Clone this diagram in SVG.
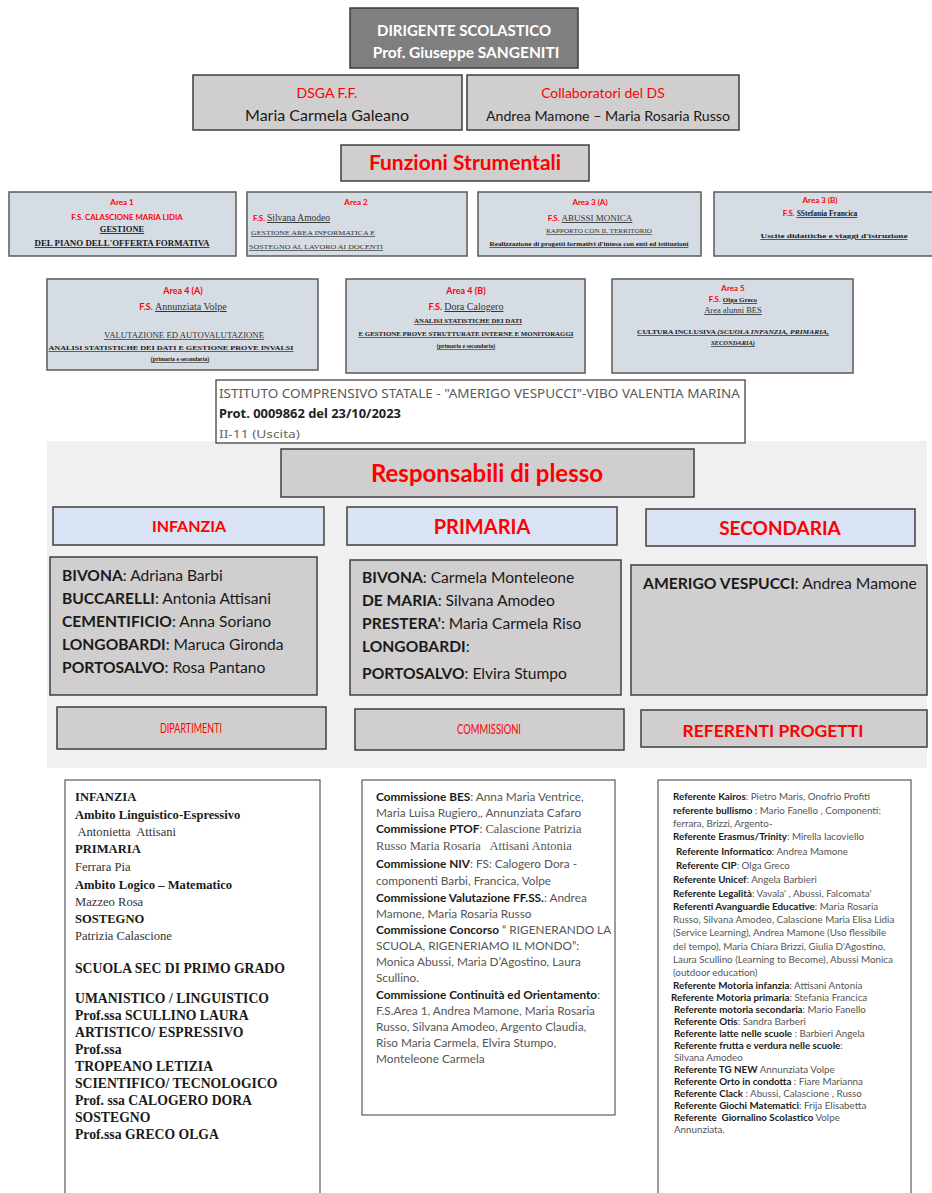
<svg xmlns="http://www.w3.org/2000/svg" width="932" height="1193" viewBox="0 0 932 1193">
<style>
.dark{fill:#7f7f7f;stroke:#3a3a3a;stroke-width:1.5}
.gray{fill:#d0cece;stroke:#3f3f3f;stroke-width:1.5}
.area{fill:#d6dce4;stroke:#5a5a5a;stroke-width:1.5}
.blue{fill:#dae3f3;stroke:#3f3f3f;stroke-width:1.5}
.white{fill:#ffffff;stroke:#5a5a5a;stroke-width:1.2}
text{font-family:Lato,"Liberation Sans",sans-serif}
.c{text-anchor:middle}
.red{fill:#ff0000}
.b{font-weight:bold}
.serif{font-family:"Liberation Serif","Times New Roman",serif}
.u{text-decoration:underline}
.ink{fill:#333333}
.k{fill:#1a1a1a}
.g{fill:#555555}
</style>
<rect x="0" y="0" width="932" height="1193" fill="#ffffff"/>
<rect x="47" y="441" width="880" height="327" fill="#f0f0f0"/>

<g id="connectors"/>

<g id="dirigente">
<rect class="dark" x="350" y="8" width="228" height="60"/>
<text class="c b" x="464" y="36" font-size="15" fill="#ffffff">DIRIGENTE SCOLASTICO</text>
<text class="c b" x="466" y="58" font-size="15.5" fill="#ffffff">Prof. Giuseppe SANGENITI</text>
</g>

<g id="dsga">
<rect class="gray" x="193" y="75" width="269" height="55"/>
<text class="c red" x="327" y="98" font-size="14">DSGA F.F.</text>
<text class="c k" x="327" y="121" font-size="16">Maria Carmela Galeano</text>
</g>

<g id="collaboratori">
<rect class="gray" x="467" y="75" width="272" height="55"/>
<text class="c red" x="603" y="98" font-size="14">Collaboratori del DS</text>
<text class="c k" x="608" y="121" font-size="14.2">Andrea Mamone – Maria Rosaria Russo</text>
</g>

<g id="funzioni">
<rect class="gray" x="341" y="145" width="248" height="36"/>
<text class="c red b" x="465" y="170" font-size="21">Funzioni Strumentali</text>
</g>

<g id="area1">
<rect class="area" x="9" y="192" width="227" height="64"/>
<text class="c red b" x="122" y="205" font-size="8">Area 1</text>
<text class="c red b" x="127" y="220" font-size="7.8">F.S. CALASCIONE MARIA LIDIA</text>
<text class="c b serif u k" x="122" y="232" font-size="8.5">GESTIONE</text>
<text class="c b serif u k" x="122" y="246" font-size="8" textLength="175" lengthAdjust="spacingAndGlyphs">DEL PIANO DELL'OFFERTA FORMATIVA</text>
</g>

<g id="area2">
<rect class="area" x="247" y="192" width="220" height="64"/>
<text class="c red b" x="356" y="205" font-size="8">Area 2</text>
<text x="253" y="221" font-size="9.5"><tspan class="red b" font-size="8">F.S. </tspan><tspan class="serif u ink">Silvana Amodeo</tspan></text>
<text class="serif u ink" x="251" y="235" font-size="7" textLength="124" lengthAdjust="spacingAndGlyphs">GESTIONE AREA INFORMATICA E</text>
<text class="serif u ink" x="249" y="249" font-size="7" textLength="134" lengthAdjust="spacingAndGlyphs">SOSTEGNO AL LAVORO AI DOCENTI</text>
</g>

<g id="area3a">
<rect class="area" x="478" y="192" width="223" height="64"/>
<text class="c red b" x="590" y="205" font-size="8">Area 3 (A)</text>
<text class="c" x="590" y="221" font-size="9"><tspan class="red b" font-size="8">F.S. </tspan><tspan class="serif u ink">ABUSSI MONICA</tspan></text>
<text class="c serif u ink" x="599" y="233" font-size="6.5" textLength="106" lengthAdjust="spacingAndGlyphs">RAPPORTO CON IL TERRITORIO</text>
<text class="c serif u b k" x="589" y="246" font-size="6.5" textLength="199" lengthAdjust="spacingAndGlyphs">Realizzazione di progetti formativi d'intesa con enti ed istituzioni</text>
</g>

<g id="area3b">
<rect class="area" x="714" y="192" width="225" height="64"/>
<text class="c red b" x="820" y="203" font-size="8">Area 3 (B)</text>
<text class="c" x="820" y="216" font-size="7.5"><tspan class="red b" font-size="8">F.S. </tspan><tspan class="serif u b k">SStefania Francica</tspan></text>
<text class="c serif u b k" x="834" y="238" font-size="7" textLength="147" lengthAdjust="spacingAndGlyphs">Uscite didattiche e viaggi d'istruzione</text>
</g>

<g id="area4a">
<rect class="area" x="47" y="279" width="271" height="91"/>
<text class="c red b" x="183" y="294" font-size="9">Area 4 (A)</text>
<text class="c" x="183" y="310" font-size="10"><tspan class="red b" font-size="9">F.S. </tspan><tspan class="serif u ink">Annunziata Volpe</tspan></text>
<text class="c serif u ink" x="184" y="338" font-size="7.5" textLength="160" lengthAdjust="spacingAndGlyphs">VALUTAZIONE ED AUTOVALUTAZIONE</text>
<text class="c serif u b k" x="171" y="350" font-size="6.5" textLength="245" lengthAdjust="spacingAndGlyphs">ANALISI STATISTICHE   DEI DATI   E GESTIONE PROVE INVALSI</text>
<text class="c serif u b k" x="180" y="361" font-size="5.8">(primaria e secondaria)</text>
</g>

<g id="area4b">
<rect class="area" x="346" y="279" width="239" height="94"/>
<text class="c red b" x="466" y="294" font-size="9">Area 4 (B)</text>
<text class="c" x="466" y="310" font-size="10"><tspan class="red b" font-size="9">F.S. </tspan><tspan class="serif u ink">Dora Calogero</tspan></text>
<text class="c serif u b k" x="468" y="323" font-size="6" textLength="108" lengthAdjust="spacingAndGlyphs">ANALISI STATISTICHE   DEI DATI</text>
<text class="c serif u b k" x="466" y="336" font-size="6.5" textLength="215" lengthAdjust="spacingAndGlyphs">E GESTIONE PROVE STRUTTURATE INTERNE E MONITORAGGI</text>
<text class="c serif u b k" x="466" y="348" font-size="5.8">(primaria e secondaria)</text>
</g>

<g id="area5">
<rect class="area" x="612" y="279" width="241" height="94"/>
<text class="c red b" x="733" y="291" font-size="8">Area 5</text>
<text class="c" x="733" y="302" font-size="7"><tspan class="red b" font-size="8">F.S. </tspan><tspan class="serif u b k">Olga Greco</tspan></text>
<text class="c serif u ink" x="733" y="313" font-size="8.5">Area alunni BES</text>
<text class="c serif u b k" x="733" y="334" font-size="6.5" textLength="192" lengthAdjust="spacingAndGlyphs">CULTURA INCLUSIVA <tspan font-style="italic">(SCUOLA INFANZIA, PRIMARIA,</tspan></text>
<text class="c serif u b k" x="733" y="345" font-size="6.5" font-style="italic">SECONDARIA)</text>
</g>

<g id="protocollo">
<rect x="216" y="380" width="529" height="63" fill="#ffffff" stroke="#333333" stroke-width="1.2"/>
<text x="219" y="398" font-size="12" fill="#5a5a5a" style="font-family:'Noto Sans','DejaVu Sans',sans-serif" textLength="521" lengthAdjust="spacingAndGlyphs">ISTITUTO COMPRENSIVO STATALE - "AMERIGO VESPUCCI"-VIBO VALENTIA MARINA</text>
<text x="219" y="418" font-size="12.5" font-weight="bold" fill="#222222" style="font-family:'Noto Sans','DejaVu Sans',sans-serif" textLength="182" lengthAdjust="spacingAndGlyphs">Prot. 0009862 del 23/10/2023</text>
<text x="219" y="438" font-size="11" fill="#666666" style="font-family:'Noto Sans','DejaVu Sans',sans-serif" textLength="81" lengthAdjust="spacingAndGlyphs">II-11 (Uscita)</text>
</g>

<g id="responsabili">
<rect class="gray" x="281" y="449" width="413" height="48"/>
<text class="c red b" x="487" y="482" font-size="24">Responsabili di plesso</text>
</g>

<g id="infanzia">
<rect class="blue" x="53" y="507" width="271" height="38"/>
<text class="c red b" x="189" y="532" font-size="16">INFANZIA</text>
</g>

<g id="primaria">
<rect class="blue" x="347" y="507" width="270" height="38"/>
<text class="c red b" x="482" y="534" font-size="20">PRIMARIA</text>
</g>

<g id="secondaria">
<rect class="blue" x="646" y="509" width="269" height="37"/>
<text class="c red b" x="780" y="535" font-size="19">SECONDARIA</text>
</g>

<g id="plessi-infanzia">
<rect class="gray" x="50" y="557" width="267" height="138"/>
<g font-size="15.6" class="k">
<text x="62" y="581"><tspan class="b">BIVONA</tspan>: Adriana Barbi</text>
<text x="62" y="604"><tspan class="b">BUCCARELLI</tspan>: Antonia Attisani</text>
<text x="62" y="627"><tspan class="b">CEMENTIFICIO</tspan>: Anna Soriano</text>
<text x="62" y="650"><tspan class="b">LONGOBARDI</tspan>: Maruca Gironda</text>
<text x="62" y="673"><tspan class="b">PORTOSALVO</tspan>: Rosa Pantano</text>
</g>
</g>

<g id="plessi-primaria">
<rect class="gray" x="350" y="560" width="271" height="135"/>
<g font-size="15.6" class="k">
<text x="362" y="583"><tspan class="b">BIVONA</tspan>: Carmela Monteleone</text>
<text x="362" y="606"><tspan class="b">DE MARIA</tspan>: Silvana Amodeo</text>
<text x="362" y="629"><tspan class="b">PRESTERA’</tspan>: Maria Carmela Riso</text>
<text x="362" y="652"><tspan class="b">LONGOBARDI</tspan>:</text>
<text x="362" y="679"><tspan class="b">PORTOSALVO</tspan>: Elvira Stumpo</text>
</g>
</g>

<g id="plessi-secondaria">
<rect class="gray" x="631" y="565" width="296" height="130"/>
<text x="643" y="589" font-size="15.7" class="k"><tspan class="b">AMERIGO VESPUCCI</tspan>: Andrea Mamone</text>
</g>

<g id="dipartimenti">
<rect class="gray" x="57" y="707" width="269" height="42"/>
<text class="c red" x="191" y="733" font-size="13.5" textLength="62" lengthAdjust="spacingAndGlyphs">DIPARTIMENTI</text>
</g>

<g id="commissioni">
<rect class="gray" x="355" y="709" width="269" height="41"/>
<text class="c red" x="489" y="734" font-size="13.5" textLength="64" lengthAdjust="spacingAndGlyphs">COMMISSIONI</text>
</g>

<g id="referenti">
<rect class="gray" x="641" y="710" width="286" height="37"/>
<text class="c red b" x="773" y="737" font-size="17.5">REFERENTI PROGETTI</text>
</g>

<g id="elenco-dipartimenti">
<rect class="white" x="65" y="780" width="255" height="425"/>
<g class="k" font-size="12.6">
<text class="serif b" x="75" y="801">INFANZIA</text>
<text class="serif b" x="75" y="819">Ambito Linguistico-Espressivo</text>
<text class="serif ink" x="75" y="836" xml:space="preserve"> Antonietta  Attisani</text>
<text class="serif b" x="75" y="853">PRIMARIA</text>
<text class="serif ink" x="75" y="871">Ferrara Pia</text>
<text class="serif b" x="75" y="889">Ambito Logico – Matematico</text>
<text class="serif ink" x="75" y="906">Mazzeo Rosa</text>
<text class="serif b" x="75" y="923">SOSTEGNO</text>
<text class="serif ink" x="75" y="940">Patrizia Calascione</text>
</g>
<g class="k" font-size="13.7">
<text class="serif b" x="75" y="973">SCUOLA SEC DI PRIMO GRADO</text>
<text class="serif b" x="75" y="1003">UMANISTICO / LINGUISTICO</text>
<text class="serif b" x="75" y="1020">Prof.ssa SCULLINO LAURA</text>
<text class="serif b" x="75" y="1037">ARTISTICO/ ESPRESSIVO</text>
<text class="serif b" x="75" y="1054">Prof.ssa</text>
<text class="serif b" x="75" y="1071">TROPEANO LETIZIA</text>
<text class="serif b" x="75" y="1088">SCIENTIFICO/ TECNOLOGICO</text>
<text class="serif b" x="75" y="1105">Prof. ssa CALOGERO DORA</text>
<text class="serif b" x="75" y="1122">SOSTEGNO</text>
<text class="serif b" x="75" y="1139">Prof.ssa GRECO OLGA</text>
</g>
</g>

<g id="elenco-commissioni">
<rect class="white" x="362" y="780" width="253" height="335"/>
<g font-size="11.8" fill="#555555">
<text x="376" y="801"><tspan class="b k">Commissione BES</tspan>: Anna Maria Ventrice,</text>
<text x="376" y="817">Maria Luisa Rugiero,, Annunziata Cafaro</text>
<text x="376" y="833"><tspan class="b k">Commissione PTOF</tspan>: <tspan class="serif" font-size="12.5">Calascione Patrizia</tspan></text>
<text x="376" y="850" class="serif" font-size="12.5" xml:space="preserve">Russo Maria Rosaria   Attisani Antonia</text>
<text x="376" y="868"><tspan class="b k">Commissione NIV</tspan>: FS: Calogero Dora -</text>
<text x="376" y="885">componenti Barbi, Francica, Volpe</text>
<text x="376" y="902"><tspan class="b k">Commissione Valutazione FF.SS.</tspan>: Andrea</text>
<text x="376" y="918">Mamone, Maria Rosaria Russo</text>
<text x="376" y="934"><tspan class="b k">Commissione Concorso</tspan> “ RIGENERANDO LA</text>
<text x="376" y="950">SCUOLA, RIGENERIAMO IL MONDO”:</text>
<text x="376" y="966">Monica Abussi, Maria D’Agostino, Laura</text>
<text x="376" y="982">Scullino.</text>
<text x="376" y="999"><tspan class="b k">Commissione Continuità ed Orientamento</tspan>:</text>
<text x="376" y="1015">F.S.Area 1, Andrea Mamone, Maria Rosaria</text>
<text x="376" y="1031">Russo, Silvana Amodeo, Argento Claudia,</text>
<text x="376" y="1047">Riso Maria Carmela, Elvira Stumpo,</text>
<text x="376" y="1063">Monteleone Carmela</text>
</g>
</g>

<g id="elenco-referenti">
<rect class="white" x="658" y="780" width="253" height="425"/>
<g font-size="9.8" fill="#555555">
<text x="673" y="800"><tspan class="b k">Referente Kairos</tspan>: Pietro Maris, Onofrio Profiti</text>
<text x="673" y="814"><tspan class="b k">referente bullismo </tspan>: Mario Fanello , Componenti:</text>
<text x="673" y="827">ferrara, Brizzi, Argento-</text>
<text x="673" y="840"><tspan class="b k">Referente Erasmus/Trinity</tspan>: Mirella Iacoviello</text>
<text x="676" y="855"><tspan class="b k">Referente Informatico</tspan>: Andrea Mamone</text>
<text x="676" y="869"><tspan class="b k">Referente CIP</tspan>: Olga Greco</text>
<text x="673" y="883"><tspan class="b k">Referente Unicef</tspan>: Angela Barbieri</text>
<text x="673" y="897"><tspan class="b k">Referente Legalità</tspan>: Vavala' , Abussi, Falcomata'</text>
<text x="673" y="910"><tspan class="b k">Referenti Avanguardie Educative</tspan>: Maria Rosaria</text>
<text x="673" y="923">Russo, Silvana Amodeo, Calascione Maria Elisa Lidia</text>
<text x="673" y="936">(Service Learning), Andrea Mamone (Uso flessibile</text>
<text x="673" y="950">del tempo), Maria Chiara Brizzi, Giulia D'Agostino,</text>
<text x="673" y="963">Laura Scullino (Learning to Become), Abussi Monica</text>
<text x="673" y="976">(outdoor education)</text>
<text x="673" y="989"><tspan class="b k">Referente Motoria infanzia</tspan>: Attisani Antonia</text>
<text x="671" y="1001"><tspan class="b k">Referente Motoria primaria</tspan>: Stefania Francica</text>
<text x="674" y="1013"><tspan class="b k">Referente motoria secondaria</tspan>: Mario Fanello</text>
<text x="674" y="1025"><tspan class="b k">Referente Otis</tspan>: Sandra Barberi</text>
<text x="674" y="1037"><tspan class="b k">Referente latte nelle scuole </tspan>: Barbieri Angela</text>
<text x="674" y="1049"><tspan class="b k">Referente frutta e verdura nelle scuole</tspan>:</text>
<text x="674" y="1061">Silvana Amodeo</text>
<text x="674" y="1073"><tspan class="b k">Referente TG NEW</tspan> Annunziata Volpe</text>
<text x="674" y="1085"><tspan class="b k">Referente Orto in condotta </tspan>: Fiare Marianna</text>
<text x="674" y="1097"><tspan class="b k">Referente Clack </tspan>: Abussi, Calascione , Russo</text>
<text x="674" y="1109"><tspan class="b k">Referente Giochi Matematici</tspan>: Frija Elisabetta</text>
<text x="674" y="1121" xml:space="preserve"><tspan class="b k">Referente  Giornalino Scolastico</tspan> Volpe</text>
<text x="674" y="1133">Annunziata.</text>
</g>
</g>
</svg>
